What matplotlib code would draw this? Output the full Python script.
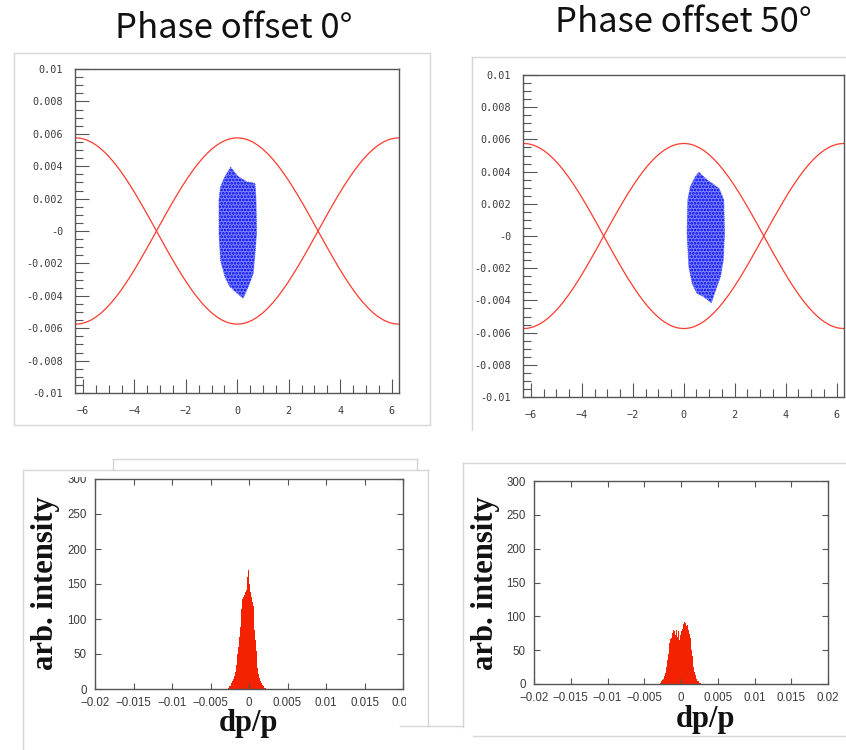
import numpy as np
import matplotlib
matplotlib.use("Agg")
import matplotlib.pyplot as plt
from matplotlib.patches import Rectangle
from matplotlib.lines import Line2D
from matplotlib.ticker import MultipleLocator, FixedLocator

W, H = 846, 750

# ---------------- data ----------------
titles = ["Phase offset 0°", "Phase offset 50°"]

# separatrix, upper branch for phase >= 0 (mirrored for phase < 0)
sep_x_half = [0.0, 0.196, 0.393, 0.589, 0.785, 0.982, 1.178, 1.374, 1.571, 1.767, 1.963, 2.160,
              2.356, 2.553, 2.749, 2.945, 3.142, 3.338, 3.534, 3.731, 3.927, 4.123, 4.320, 4.516,
              4.712, 4.909, 5.105, 5.301, 5.498, 5.694, 5.890, 6.087, 6.283]
sep_y_half = [0.005750, 0.005722, 0.005640, 0.005502, 0.005312, 0.005071, 0.004781, 0.004445,
              0.004066, 0.003648, 0.003195, 0.002711, 0.002200, 0.001669, 0.001122, 0.000564, 0.0,
              -0.000564, -0.001122, -0.001669, -0.002200, -0.002711, -0.003195, -0.003648, -0.004066,
              -0.004445, -0.004781, -0.005071, -0.005312, -0.005502, -0.005640, -0.005722, -0.005750]

# particle cloud outlines
cloud0_x = [-0.26, 0.04, 0.36, 0.69, 0.73, 0.75, 0.69, 0.62, 0.43, 0.23, 0.0, -0.29, -0.48, -0.65, -0.71, -0.71, -0.65, -0.48, -0.29]
cloud0_y = [0.00393, 0.00335, 0.00304, 0.00294, 0.00191, -0.00014, -0.00138, -0.00261, -0.00343, -0.00415, -0.00384, -0.00343, -0.00282, -0.00179, -0.00014, 0.00191, 0.00273, 0.00335, 0.00386]
cloud50_x = [0.59, 0.92, 1.38, 1.57, 1.60, 1.55, 1.44, 1.25, 1.08, 0.79, 0.52, 0.33, 0.20, 0.13, 0.16, 0.26, 0.46]
cloud50_y = [0.00396, 0.00348, 0.00296, 0.00224, 0.00017, -0.00149, -0.00253, -0.00336, -0.00415, -0.00377, -0.00356, -0.00294, -0.00191, 0.00017, 0.00224, 0.00307, 0.00369]

# histograms (bin centers, counts)
hist0_x = [-0.00265, -0.00255, -0.00245, -0.00235, -0.00225, -0.00215, -0.00205, -0.00195, -0.00185, -0.00175,
           -0.00165, -0.00155, -0.00145, -0.00135, -0.00125, -0.00115, -0.00105, -0.00095, -0.00085, -0.00075,
           -0.00065, -0.00055, -0.00045, -0.00035, -0.00025, -0.00015, -0.00005, 0.00005, 0.00015, 0.00025,
           0.00035, 0.00045, 0.00055, 0.00065, 0.00075, 0.00085, 0.00095, 0.00105, 0.00115, 0.00125,
           0.00135, 0.00145, 0.00155, 0.00165, 0.00175, 0.00185, 0.00195, 0.00205, 0.00215]
hist0_y = [2, 4, 5, 6, 8, 12, 14, 16, 18, 25,
           35, 42, 50, 60, 75, 88, 100, 115, 128, 131,
           128, 135, 138, 142, 148, 160, 170, 150, 138, 135,
           132, 125, 118, 105, 85, 70, 55, 40, 30, 22,
           16, 12, 10, 8, 6, 4, 3, 2, 1]
hist50_x = [-0.00275, -0.00265, -0.00255, -0.00245, -0.00235, -0.00225, -0.00215, -0.00205, -0.00195, -0.00185,
            -0.00175, -0.00165, -0.00155, -0.00145, -0.00135, -0.00125, -0.00115, -0.00105, -0.00095, -0.00085,
            -0.00075, -0.00065, -0.00055, -0.00045, -0.00035, -0.00025, -0.00015, -0.00005, 0.00005, 0.00015,
            0.00025, 0.00035, 0.00045, 0.00055, 0.00065, 0.00075, 0.00085, 0.00095, 0.00105, 0.00115,
            0.00125, 0.00135, 0.00145, 0.00155, 0.00165, 0.00175, 0.00185, 0.00195, 0.00205, 0.00215,
            0.00225, 0.00235, 0.00245, 0.00255, 0.00265]
hist50_y = [2, 4, 6, 6, 8, 12, 16, 18, 25, 35,
            45, 52, 60, 66, 70, 68, 75, 80, 84, 78,
            72, 80, 75, 70, 78, 65, 68, 72, 78, 75,
            82, 88, 92, 91, 90, 86, 87, 85, 80, 74,
            68, 60, 50, 42, 34, 25, 18, 13, 10, 7,
            5, 4, 3, 2, 1]

phase_yticks = [0.01, 0.008, 0.006, 0.004, 0.002, 0.0, -0.002, -0.004, -0.006, -0.008, -0.01]
phase_ylabels = ["0.01", "0.008", "0.006", "0.004", "0.002", "-0", "-0.002", "-0.004", "-0.006", "-0.008", "-0.01"]
phase_xticks = [-6, -4, -2, 0, 2, 4, 6]
hist_xticks = [-0.02, -0.015, -0.01, -0.005, 0, 0.005, 0.01, 0.015, 0.02]
hist_xlabels = ["\u22120.02", "\u22120.015", "\u22120.01", "\u22120.005", "0", "0.005", "0.01", "0.015", "0.02"]
hist_yticks = [0, 50, 100, 150, 200, 250, 300]

RED = "#ff3b2f"
BAR = "#f52200"
FRAME = "#d6d6d6"
SPINE = "#555555"
TXT = "#3a3a3a"

sep_x = [-v for v in sep_x_half[::-1]] + sep_x_half[1:]
sep_y = sep_y_half[::-1] + sep_y_half[1:]


def ax_rect(l, t, r, b):
    return [l / W, 1 - b / H, (r - l) / W, (b - t) / H]


def fx(x):
    return x / W


def fy(y):
    return 1 - y / H


plt.rcParams["hatch.linewidth"] = 1.3
fig = plt.figure(figsize=(W / 100, H / 100), dpi=100)
fig.patch.set_facecolor("white")


def fline(x0, y0, x1, y1, color=FRAME, lw=1.0, z=20):
    fig.add_artist(Line2D([fx(x0), fx(x1)], [fy(y0), fy(y1)], transform=fig.transFigure,
                          color=color, lw=lw, zorder=z))


def frect(l, t, r, b, fc="white", ec="none", lw=1.0, z=15):
    fig.add_artist(Rectangle((fx(l), fy(b)), fx(r) - fx(l), fy(t) - fy(b), transform=fig.transFigure,
                             facecolor=fc, edgecolor=ec, lw=lw, zorder=z))


# ---------------- phase space panels ----------------
phase_rects = [ax_rect(75, 69, 399, 393), ax_rect(523, 75, 844, 397)]
clouds = [(cloud0_x, cloud0_y), (cloud50_x, cloud50_y)]
for i in range(2):
    ax = fig.add_axes(phase_rects[i])
    ax.plot(sep_x, sep_y, color=RED, lw=0.9)
    ax.plot(sep_x, [-v for v in sep_y], color=RED, lw=0.9)
    cx, cy = clouds[i]
    ax.fill(cx, cy, facecolor="#7c87ff", edgecolor="#0000f0", hatch=".....", lw=0.0)
    ax.fill(cx, cy, facecolor="none", edgecolor="#4a55ff", lw=0.7, ls=(0, (1, 1)))
    ax.set_xlim(-6.31, 6.29)
    ax.set_ylim(-0.01, 0.01)
    ax.yaxis.set_major_locator(FixedLocator(phase_yticks))
    ax.set_yticklabels(phase_ylabels)
    ax.xaxis.set_major_locator(FixedLocator(phase_xticks))
    ax.xaxis.set_minor_locator(MultipleLocator(0.5))
    ax.yaxis.set_minor_locator(MultipleLocator(0.0005))
    ax.tick_params(which="both", direction="in", color=SPINE, width=0.8,
                   top=False, right=False)
    ax.tick_params(which="major", length=10)
    ax.tick_params(which="minor", length=6)
    ax.tick_params(axis="y", pad=8.5)
    ax.tick_params(axis="x", pad=9)
    for lab in ax.get_xticklabels() + ax.get_yticklabels():
        lab.set_fontfamily("DejaVu Sans Mono")
        lab.set_fontsize(7.3)
        lab.set_color(TXT)
    for s in ax.spines.values():
        s.set_color(SPINE)
        s.set_linewidth(1.0)

fig.text(fx(234), fy(28), titles[0], ha="center", va="center", fontsize=25,
         family=["Noto Sans CJK JP", "DejaVu Sans"], color="#111111")
fig.text(fx(683), fy(22), titles[1], ha="center", va="center", fontsize=25,
         family=["Noto Sans CJK JP", "DejaVu Sans"], color="#111111")

# ---------------- histogram panels ----------------
hist_rects = [ax_rect(95, 479, 403, 689), ax_rect(534, 481, 828, 684)]
hists = [(hist0_x, hist0_y), (hist50_x, hist50_y)]
ylab_pos = [(45, 583), (485, 583)]
xlab_pos = [(248, 724), (705, 719)]
for i in range(2):
    ax = fig.add_axes(hist_rects[i])
    hx, hy = hists[i]
    ax.bar(hx, hy, width=0.0001, color=BAR, linewidth=0)
    ax.set_xlim(-0.02, 0.02)
    ax.set_ylim(0, 300)
    ax.xaxis.set_major_locator(FixedLocator(hist_xticks))
    ax.set_xticklabels(hist_xlabels)
    ax.yaxis.set_major_locator(FixedLocator(hist_yticks))
    ax.tick_params(direction="in", length=4, width=0.8, color=SPINE,
                   top=True, right=True, labelsize=8.3, labelcolor=TXT)
    ax.tick_params(axis="y", pad=6)
    ax.tick_params(axis="x", pad=6)
    for lab in ax.get_xticklabels() + ax.get_yticklabels():
        lab.set_fontfamily("Liberation Sans")
    for s in ax.spines.values():
        s.set_color(SPINE)
        s.set_linewidth(1.0)
    fig.text(fx(ylab_pos[i][0]), fy(ylab_pos[i][1]), "arb. intensity", rotation=90,
             ha="center", va="center", fontsize=22, fontweight="bold",
             family="Liberation Serif", color="#111111")
    fig.text(fx(xlab_pos[i][0]), fy(xlab_pos[i][1]), "dp/p", ha="center", va="center",
             fontsize=22, fontweight="bold", family="Liberation Serif", color="#111111")

# ---------------- screenshot frames ----------------
# top-left frame
frect(14, 53, 430, 425, fc="none", ec=FRAME, lw=1.0, z=5)
# top-right frame
fline(472, 57, 846, 57)
fline(472, 57, 472, 430)
# bottom-left stacked frames
frect(23, 459, 428, 471, fc="white", z=15)
frect(60, 471, 94, 476.5, fc="white", z=15)
fline(113, 459, 417, 459)
fline(113, 459, 113, 470)
fline(417, 459, 417, 470)
fline(23, 470, 428, 470)
fline(23, 470, 23, 750)
fline(428, 470, 428, 726)
fline(400, 726, 463, 726)
frect(406, 690, 427, 712, fc="white", z=15)
# bottom-right frames
fline(463, 463, 846, 463)
fline(463, 463, 463, 727)
fline(473, 736, 846, 736)

fig.savefig("out.png", dpi=100, facecolor="white")
